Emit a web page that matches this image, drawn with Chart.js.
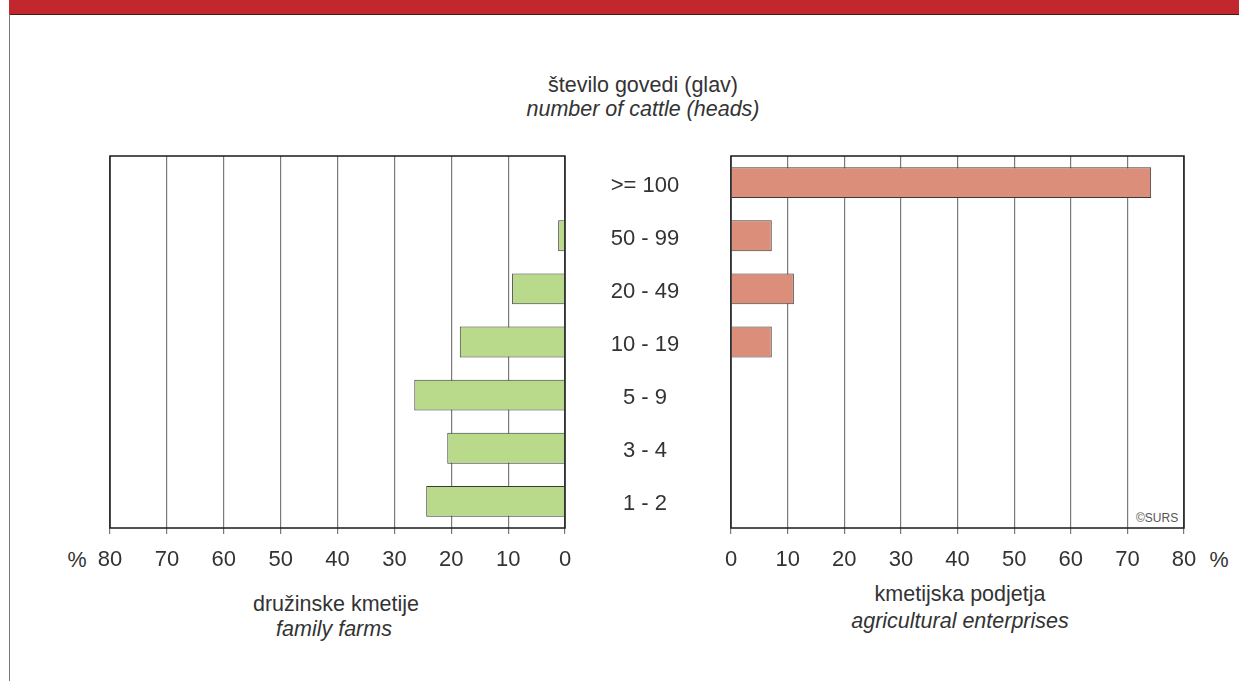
<!DOCTYPE html>
<html>
<head>
<meta charset="utf-8">
<script src="https://cdn.jsdelivr.net/npm/chart.js@4.4.1/dist/chart.umd.min.js"></script>
<style>
  html, body { margin: 0; padding: 0; background: #fff; }
  #page { position: relative; width: 1239px; height: 681px; overflow: hidden; font-family: "Liberation Sans", Arial, sans-serif; color: #333; }
  .band { position: absolute; left: 9px; top: 0; width: 1230px; height: 14px; background: #c1272d; border-bottom: 1px solid #4a1515; }
  .vline { position: absolute; left: 9px; top: 14px; width: 1px; height: 667px; background: #777; }
  .txt { position: absolute; font-size: 21.5px; white-space: nowrap; transform: translate(-50%, -50%); }
  .it { font-style: italic; }
  canvas { position: absolute; }
  .copy { position: absolute; font-size: 12px; color: #555; }
</style>
</head>
<body>
<div id="page">
  <div class="band"></div>
  <div class="vline"></div>
  <div class="txt" style="left:643px; top:85px;">število govedi (glav)</div>
  <div class="txt it" style="left:643px; top:109px;">number of cattle (heads)</div>
  <div class="txt" style="left:77px; top:560px;">%</div>
  <div class="txt" style="left:1219px; top:560px;">%</div>
  <div class="txt" style="left:336px; top:604px;">družinske kmetije</div>
  <div class="txt it" style="left:334px; top:629px;">family farms</div>
  <div class="txt" style="left:960px; top:594px;">kmetijska podjetja</div>
  <div class="txt it" style="left:960px; top:621px;">agricultural enterprises</div>
  <div class="copy" style="left:1136px; top:511px;">©SURS</div>
  <canvas id="leftChart" style="left:60px; top:140px;" width="515" height="460"></canvas>
  <canvas id="rightChart" style="left:565px; top:140px;" width="660" height="460"></canvas>
</div>
<script>
// cattle size classes, top to bottom
const sizeClasses = ['>= 100', '50 - 99', '20 - 49', '10 - 19', '5 - 9', '3 - 4', '1 - 2'];
// share of holdings (%)
const familyFarms = [0, 1.2, 9.3, 18.5, 26.5, 20.7, 24.4];
const enterprises = [74.2, 7.2, 11.1, 7.2, 0, 0, 0];
const axisMin = 0;
const axisMax = 80;
const axisStep = 10;

const fontFamily = '"Liberation Sans", Arial, sans-serif';
const fontSize = 22;
const textColor = '#333';

// black frame round the plot area
const framePlugin = {
    id: 'frame',
    afterDraw(chart) {
        const a = chart.chartArea;
        const c = chart.ctx;
        c.save();
        c.strokeStyle = '#1a1a1a';
        c.lineWidth = 1.5;
        c.strokeRect(a.left, a.top, a.right - a.left, a.bottom - a.top);
        c.restore();
    }
};

function xScale(reverse) {
    return {
        min: axisMin,
        max: axisMax,
        reverse: reverse,
        grid: { color: '#7a7a7a', lineWidth: 1.2, tickLength: 6, drawTicks: true },
        border: { display: false },
        ticks: {
            stepSize: axisStep,
            padding: 13,
            maxRotation: 0,
            color: textColor,
            font: { family: fontFamily, size: fontSize }
        },
        afterFit(scale) {
            scale.height = 40;
            scale.paddingLeft = 0;
            scale.paddingRight = 0;
        }
    };
}

// width of the widest category label, to centre labels in the gap
const measure = document.createElement('canvas').getContext('2d');
measure.font = fontSize + 'px ' + fontFamily;
const widest = Math.max(...sizeClasses.map(s => measure.measureText(s).width));

new Chart(document.getElementById('leftChart'), {
    type: 'bar',
    data: {
        labels: sizeClasses,
        datasets: [{
            label: 'family farms',
            data: familyFarms,
            backgroundColor: '#b9d98b',
            borderColor: '#3a3a3a',
            borderWidth: 1,
            barPercentage: 0.58,
            categoryPercentage: 1
        }]
    },
    options: {
        indexAxis: 'y',
        responsive: false,
        animation: false,
        layout: { padding: { left: 50, right: 10, top: 16, bottom: 32 } },
        plugins: { legend: { display: false }, tooltip: { enabled: false } },
        scales: {
            x: xScale(true),
            y: { display: false }
        }
    },
    plugins: [framePlugin]
});

new Chart(document.getElementById('rightChart'), {
    type: 'bar',
    data: {
        labels: sizeClasses,
        datasets: [{
            label: 'agricultural enterprises',
            data: enterprises,
            backgroundColor: '#db8f7a',
            borderColor: '#3a3a3a',
            borderWidth: 1,
            barPercentage: 0.58,
            categoryPercentage: 1
        }]
    },
    options: {
        indexAxis: 'y',
        responsive: false,
        animation: false,
        layout: { padding: { left: 0, right: 41, top: 16, bottom: 32 } },
        plugins: { legend: { display: false }, tooltip: { enabled: false } },
        scales: {
            x: xScale(false),
            y: {
                grid: { display: false, drawTicks: false },
                border: { display: false },
                ticks: {
                    crossAlign: 'center',
                    padding: 86 - widest / 2,
                    labelOffset: 3,
                    color: textColor,
                    font: { family: fontFamily, size: fontSize }
                },
                afterFit(scale) {
                    scale.width = 166;
                    scale.paddingTop = 0;
                    scale.paddingBottom = 0;
                }
            }
        }
    },
    plugins: [framePlugin]
});
</script>
</body>
</html>
